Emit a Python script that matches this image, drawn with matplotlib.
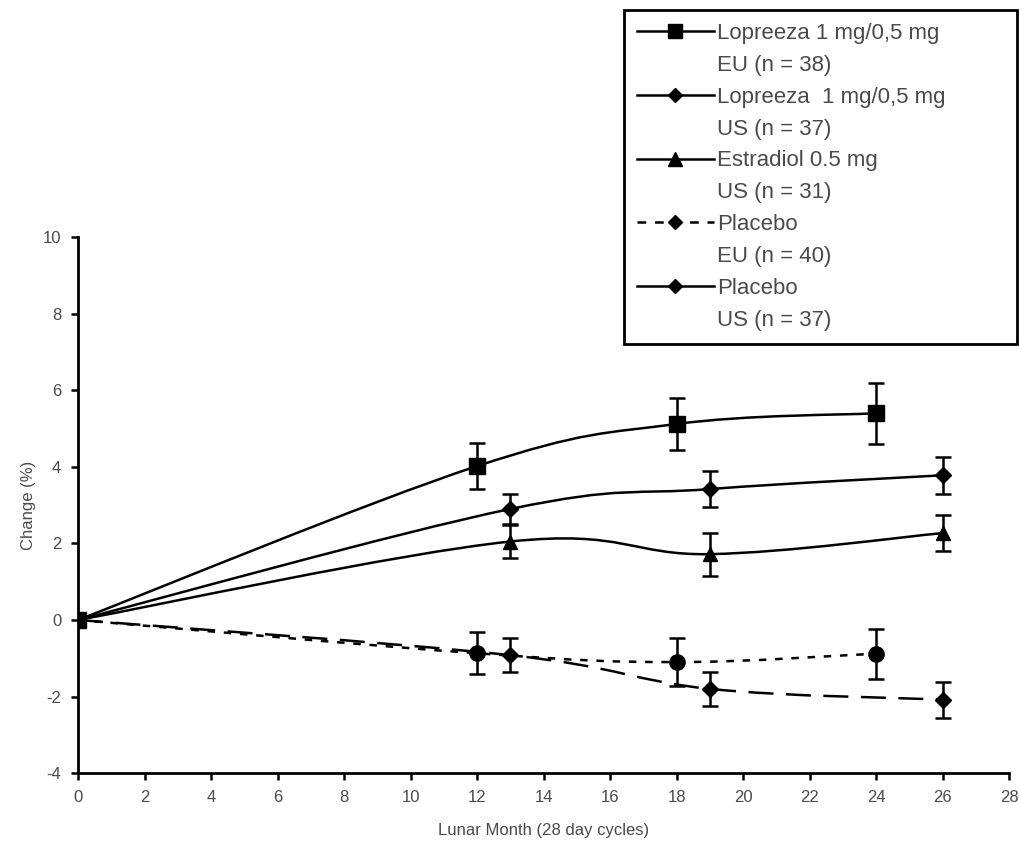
import numpy as np
import matplotlib
matplotlib.use("Agg")
import matplotlib.pyplot as plt
from matplotlib.path import Path
from matplotlib.patches import PathPatch
from matplotlib.lines import Line2D

plt.rcParams['font.family'] = ['Liberation Sans', 'DejaVu Sans']

# ---- data ----
lop_eu_x = [0, 12, 18, 24]
lop_eu_y = [0, 4.02, 5.12, 5.40]
lop_eu_e = [0, 0.6, 0.68, 0.8]

lop_us_x = [0, 13, 19, 26]
lop_us_y = [0, 2.90, 3.42, 3.78]
lop_us_e = [0, 0.38, 0.48, 0.48]

est_x = [0, 13, 19, 26]
est_y = [0, 2.05, 1.72, 2.27]
est_e = [0, 0.43, 0.56, 0.48]

pla_eu_x = [0, 12, 18, 24]
pla_eu_y = [0, -0.87, -1.10, -0.88]
pla_eu_e = [0, 0.55, 0.62, 0.65]

pla_us_x = [0, 13, 19, 26]
pla_us_y = [0, -0.92, -1.80, -2.08]
pla_us_e = [0, 0.44, 0.45, 0.47]

labels = ["Lopreeza 1 mg/0,5 mg", "EU (n = 38)",
          "Lopreeza  1 mg/0,5 mg", "US (n = 37)",
          "Estradiol 0.5 mg", "US (n = 31)",
          "Placebo", "EU (n = 40)",
          "Placebo", "US (n = 37)"]

xticks = list(range(0, 29, 2))
yticks = list(range(-4, 11, 2))

TXT = '#4a4a4a'

fig = plt.figure(figsize=(10.2, 8.44), dpi=100)
ax = fig.add_axes([0.0765, 0.084, 0.913, 0.635])


def smooth(ax, xs, ys, ls, t=0.18):
    xs = np.asarray(xs, float)
    ys = np.asarray(ys, float)
    verts = [(xs[0], ys[0])]
    codes = [Path.MOVETO]
    n = len(xs)
    for i in range(n - 1):
        p0 = np.array([xs[max(i - 1, 0)], ys[max(i - 1, 0)]])
        p1 = np.array([xs[i], ys[i]])
        p2 = np.array([xs[i + 1], ys[i + 1]])
        p3 = np.array([xs[min(i + 2, n - 1)], ys[min(i + 2, n - 1)]])
        c1 = p1 + (p2 - p0) * t
        c2 = p2 - (p3 - p1) * t
        verts += [tuple(c1), tuple(c2), tuple(p2)]
        codes += [Path.CURVE4] * 3
    patch = PathPatch(Path(verts, codes), fill=False, edgecolor='black',
                      linewidth=1.8, linestyle=ls, transform=ax.transData,
                      capstyle='butt', zorder=2)
    ax.add_patch(patch)


series = [
    (lop_eu_x, lop_eu_y, lop_eu_e, 's', 11, '-'),
    (lop_us_x, lop_us_y, lop_us_e, 'D', 8, '-'),
    (est_x, est_y, est_e, '^', 10, '-'),
    (pla_eu_x, pla_eu_y, pla_eu_e, 'o', 11, (0, (3.0, 3.5))),
    (pla_us_x, pla_us_y, pla_us_e, 'D', 8, (0, (10, 5))),
]

for xs, ys, es, mk, ms, ls in series:
    smooth(ax, xs, ys, ls)
    ax.errorbar(xs[1:], ys[1:], yerr=es[1:], fmt=mk, color='black',
                markersize=ms, elinewidth=1.8, capsize=6, capthick=1.8, zorder=3)
ax.plot([0], [0], 's', color='black', markersize=12, zorder=4)

ax.set_xlim(0, 28)
ax.set_ylim(-4, 10)
ax.set_xticks(xticks)
ax.set_yticks(yticks)
ax.set_xticklabels([str(v) for v in xticks], color=TXT, fontsize=12)
ax.set_yticklabels([str(v) for v in yticks], color=TXT, fontsize=12)
ax.tick_params(direction='out', length=5, width=1.8, pad=7)
for s in ['top', 'right']:
    ax.spines[s].set_visible(False)
for s in ['left', 'bottom']:
    ax.spines[s].set_linewidth(2)
ax.set_xlabel('Lunar Month (28 day cycles)', color=TXT, fontsize=12, labelpad=13)
ax.set_ylabel('Change (%)', color=TXT, fontsize=12, labelpad=5)
ax.patch.set_alpha(0)

# legend
blank = Line2D([], [], color='none')
handles = [
    Line2D([], [], color='black', marker='s', markersize=10, lw=1.8), blank,
    Line2D([], [], color='black', marker='D', markersize=7, lw=1.8), blank,
    Line2D([], [], color='black', marker='^', markersize=10, lw=1.8), blank,
    Line2D([], [], color='black', marker='D', markersize=7, lw=1.8, ls=(0, (3.5, 3.5))), blank,
    Line2D([], [], color='black', marker='D', markersize=7, lw=1.8), blank,
]
leg = fig.legend(handles, labels, loc='upper left',
                 bbox_to_anchor=(624 / 1020, 1 - 342 / 844, 393 / 1020, 332 / 844),
                 mode='expand', fontsize=16, handlelength=3.45, handletextpad=0.15,
                 labelspacing=0.49, borderpad=0.58, borderaxespad=0, frameon=True,
                 fancybox=False, edgecolor='black', framealpha=1)
leg.get_frame().set_linewidth(2)
for t in leg.get_texts():
    t.set_color(TXT)

fig.savefig('out.png', dpi=100)
